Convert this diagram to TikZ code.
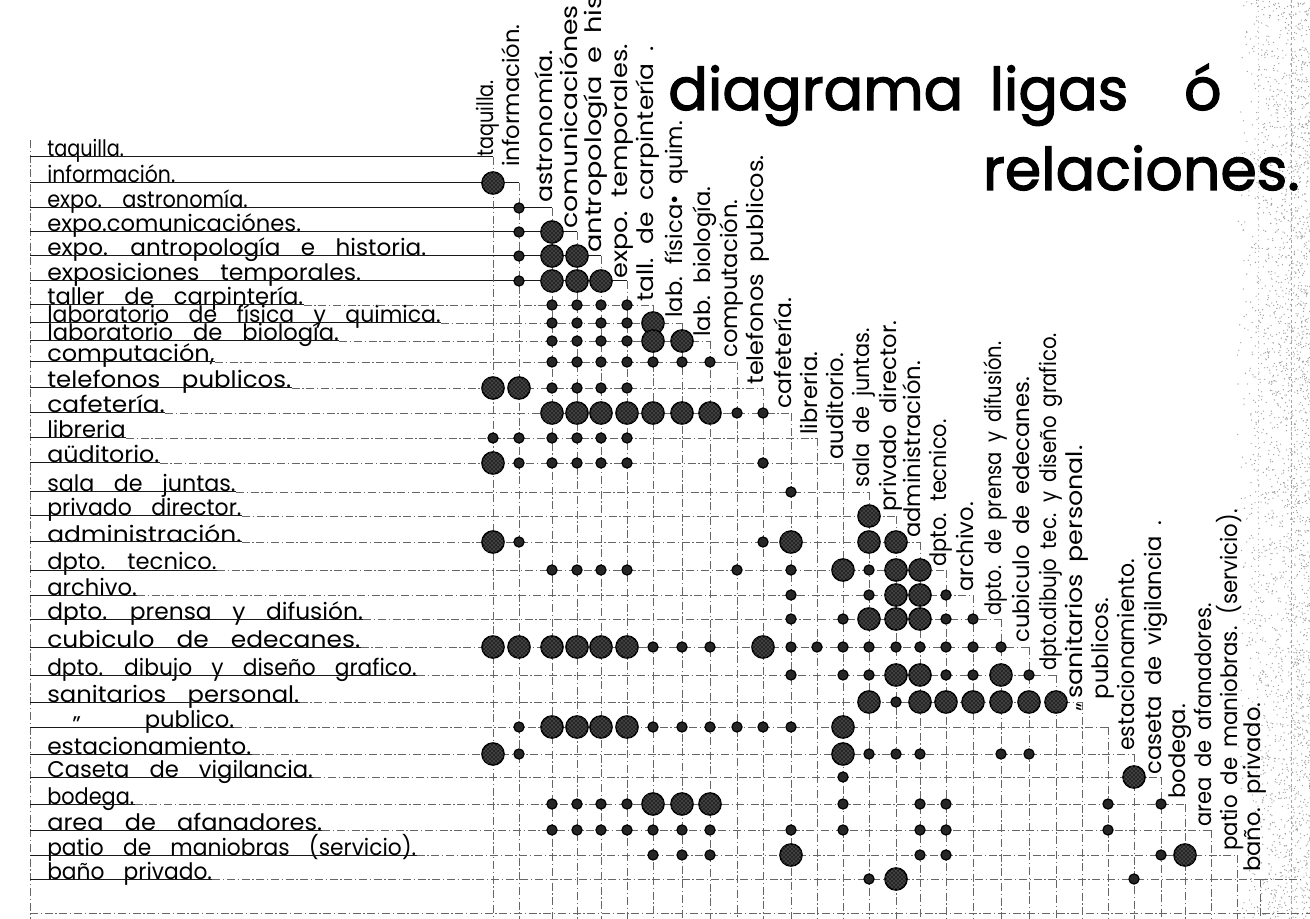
\documentclass[tikz,border=0pt]{standalone}
\usepackage{graphicx}
\usepackage{fontspec}
\setmainfont{Poppins}
\newfontfamily\ttlfont{Poppins}[FakeBold=2]
\usetikzlibrary{calc,patterns}
\newcommand\rowsp{\spaceskip=15pt\relax}
\newcommand\colsp{\spaceskip=8pt\relax}
\tikzset{
  rowsolid/.style={line width=0.75pt, black!90},
  rowdash/.style={line width=0.55pt, black!60, dash pattern=on 6pt off 2pt on 1pt off 2pt},
  coldash/.style={line width=0.55pt, black!60, dash pattern=on 6pt off 2pt on 1pt off 2pt},
  rlab/.style={anchor=base west, inner sep=0pt, font=\fontsize{17}{17}\selectfont},
  clab/.style={rotate=90, anchor=base west, inner sep=0pt, font=\fontsize{17}{17}\selectfont},
  ttl/.style={inner sep=0pt, font=\ttlfont\fontsize{44}{44}\selectfont},
  dotB/.style={circle, draw=black, line width=1.2pt, fill=black!85, minimum size=16.5pt, inner sep=0pt,
    postaction={pattern=crosshatch dots, pattern color=black!40}},
  dotS/.style={circle, draw=black, line width=0.9pt, fill=black!85, minimum size=7.6pt, inner sep=0pt},
}
\begin{document}
\begin{tikzpicture}[x=0.75pt,y=-0.75pt]
\useasboundingbox (0,0) rectangle (1310,919);
\fill[white] (0,0) rectangle (1310,919);
% scanner speckle at the right edge
\pgfmathsetseed{42}
\foreach \k in {1,...,2600}{
  \pgfmathsetmacro{\nx}{1235+75*sqrt(rnd)}
  \pgfmathsetmacro{\ny}{919*rnd}
  \fill[black!38] (\nx,\ny) circle (0.5pt);
}
\coordinate (n1a) at (1291,0);
\coordinate (n1b) at (1291,919);
\coordinate (n2a) at (1258,0);
\coordinate (n2b) at (1258,600);
\draw[black!35, line width=0.5pt, dash pattern=on 2pt off 2pt] (n1a) -- (n1b);
\draw[black!25, line width=0.5pt, dash pattern=on 1pt off 3pt] (n2a) -- (n2b);
\def\colx{493,519,552,577,601,627,653,682,710,737,763,791,817,843,869,896,920,946,973,1001,1029,1056,1082,1108,1134,1161,1185,1211,1237,1260}
\def\rowy{157,183,208,232,256,281,305,323,341,362,388,413,438,463,492,516,542,570,595,619,647,675,702,727,754,777,804,830,855,879}
\coordinate (lx) at (47,0);
\coordinate (l0) at (30,0);
\coordinate (bot) at (0,919);
\foreach \x [count=\i] in \colx {\coordinate (cx\i) at (\x,0);}
\foreach \y [count=\i] in \rowy {\coordinate (ry\i) at (0,\y);}
\foreach \i in {1,...,30}{
  \coordinate (D\i) at (cx\i |- ry\i);
  \coordinate (L\i) at (l0 |- ry\i);
  \coordinate (B\i) at (cx\i |- bot);
}
% frame lines
\coordinate (ltop) at (30,140);
\coordinate (lbot) at (30,919);
\coordinate (bl) at (30,913);
\coordinate (br) at (1310,913);
\draw[coldash] (ltop) -- (lbot);
\draw[coldash] (bl) -- (br);
% row labels (index / horizontal scale / text)
\foreach \i/\s/\t in {1/0.85/taquilla., 2/0.9/información., 3/0.92/expo. astronomía., 4/1/expo.comunicaciónes.,
  5/1.02/expo. antropología e historia., 6/1.04/exposiciones temporales., 7/1/taller de carpintería.,
  8/0.97/laboratorio de física y quimica., 9/1/laboratorio de biología., 10/1.06/{computación,},
  11/1.08/telefonos publicos., 12/1.1/cafetería., 13/1/libreria, 14/1.05/aüditorio., 15/0.98/sala de juntas.,
  16/0.97/privado director., 17/1.1/administración., 18/1/dpto. tecnico., 19/1/archivo.,
  20/1.03/dpto. prensa y difusión., 21/1.1/cubiculo de edecanes., 22/0.96/dpto. dibujo y diseño grafico.,
  23/1.07/sanitarios personal., 25/1.03/estacionamiento., 26/1/Caseta de vigilancia., 27/0.92/bodega.,
  28/1.06/area de afanadores., 29/0.96/patio de maniobras (servicio)., 30/0.96/baño privado.}
  {\node[rlab] (rl\i) at (lx |- ry\i) {\scalebox{\s}[1]{\rowsp\t}};}
\coordinate (lx24) at (72,0);
\node[rlab] (rl24) at (lx24 |- ry24) {\raisebox{-4pt}{"}\hspace{48pt}publico.};
% row lines
\foreach \i in {1,...,6}{\draw[rowsolid] (L\i) -- (D\i);}
\foreach \i in {7,...,30}{
  \draw[rowsolid] (L\i) -- (rl\i.base east);
  \draw[rowdash] (rl\i.base east) -- (D\i);
}
\coordinate (E30) at (1303,879);
\draw[rowdash] (D30) -- (E30);
% column lines
\foreach \i in {1,...,30}{\draw[coldash] (D\i) -- (B\i);}
% column labels (index / x / bottom y / scale along the text / text)
\foreach \i/\x/\yb/\s/\t in {1/493/157/0.85/taquilla., 2/519/167/1/información., 3/552/203/1.12/astronomía.,
  4/577/229/1.18/comunicaciónes, 5/601/253/1.2/antropología e historia., 6/627/279/1.13/expo. temporales.,
  7/653/302/1.1/tall. de carpintería ., 8/682/318/1/lab. física\textbullet\ quim., 9/710/337/1/lab. biología.,
  10/737/358/1/computación., 11/763/385/1.06/telefonos publicos., 12/791/409/1.04/cafetería.,
  13/817/435/1/libreria., 14/843/460/1/auditorio., 15/869/488/0.92/sala de juntas.,
  16/896/512/1/privado director., 17/920/538/1/administración., 18/946/567/0.92/dpto. tecnico.,
  19/973/592/1/archivo., 20/1001/616/0.86/dpto. de prensa y difusión., 21/1029/643/1/cubiculo de edecanes.,
  22/1056/671/0.87/dpto.dibujo tec. y diseño grafico., 23/1082/699/1.12/sanitarios personal.,
  24/1108/712/1/{\raisebox{12pt}{"}\hspace{3pt}publicos.}, 25/1134/751/0.97/estacionamiento.,
  26/1161/775/1/caseta de vigilancia ., 27/1185/799/1/bodega., 28/1211/827/0.93/area de afanadores.,
  29/1237/851/0.94/patio de maniobras. (servicio)., 30/1260/872/1/baño. privado.}
  {\node[clab] (cl\i) at (\x,\yb) {\scalebox{\s}[1]{\colsp\t}};}
% title
\node[ttl, anchor=base west] (t1) at (668,110) {diagrama\hspace{8pt} ligas\hspace{30pt} ó};
\node[ttl, anchor=base east] (t2) at (1300,190) {relaciones.};
% dots
\foreach \r/\c/\s in {2/1/B, 3/2/S, 4/2/S, 4/3/B, 5/2/S, 5/3/B, 5/4/B, 6/2/S, 6/3/B, 6/4/B, 6/5/B,
  7/3/S, 7/4/S, 7/5/S, 7/6/S, 8/3/S, 8/4/S, 8/5/S, 8/6/S, 8/7/B,
  9/3/S, 9/4/S, 9/5/S, 9/6/S, 9/7/B, 9/8/B,
  10/3/S, 10/4/S, 10/5/S, 10/6/S, 10/7/S, 10/8/S, 10/9/S,
  11/1/B, 11/2/B, 11/3/S, 11/4/S, 11/5/S, 11/6/S,
  12/3/B, 12/4/B, 12/5/B, 12/6/B, 12/7/B, 12/8/B, 12/9/B, 12/10/S, 12/11/S,
  13/1/S, 13/2/S, 13/3/S, 13/4/S, 13/5/S, 13/6/S,
  14/1/B, 14/2/S, 14/3/S, 14/4/S, 14/5/S, 14/6/S, 14/11/S,
  15/12/S, 16/15/B,
  17/1/B, 17/2/S, 17/11/S, 17/12/B, 17/15/B, 17/16/B,
  18/3/S, 18/4/S, 18/5/S, 18/6/S, 18/10/S, 18/12/S, 18/14/B, 18/15/S, 18/16/B, 18/17/B,
  19/12/S, 19/15/S, 19/16/B, 19/17/B, 19/18/S,
  20/12/S, 20/14/S, 20/15/B, 20/16/B, 20/17/B, 20/18/S, 20/19/S,
  21/1/B, 21/2/B, 21/3/B, 21/4/B, 21/5/B, 21/6/B, 21/7/S, 21/8/S, 21/9/S, 21/11/B,
  21/12/S, 21/13/S, 21/14/S, 21/15/S, 21/16/S, 21/17/S, 21/18/S, 21/19/S, 21/20/S,
  22/12/S, 22/14/S, 22/15/S, 22/16/B, 22/17/B, 22/18/S, 22/19/S, 22/20/B, 22/21/S,
  23/15/B, 23/16/S, 23/17/B, 23/18/B, 23/19/B, 23/20/B, 23/21/B, 23/22/B,
  24/2/S, 24/3/B, 24/4/B, 24/5/B, 24/6/B, 24/7/S, 24/8/S, 24/9/S, 24/10/S, 24/11/S, 24/12/S, 24/14/B,
  25/1/B, 25/2/S, 25/14/B, 25/15/S, 25/16/S, 25/17/S, 25/20/S, 25/21/S,
  26/14/S, 26/25/B,
  27/3/S, 27/4/S, 27/5/S, 27/6/S, 27/7/B, 27/8/B, 27/9/B, 27/14/S, 27/17/S, 27/18/S, 27/24/S, 27/26/S,
  28/3/S, 28/4/S, 28/5/S, 28/6/S, 28/7/S, 28/8/S, 28/9/S, 28/12/S, 28/14/S, 28/17/S, 28/18/S, 28/24/S,
  29/7/S, 29/8/S, 29/9/S, 29/12/B, 29/17/S, 29/18/S, 29/26/S, 29/27/B,
  30/15/S, 30/16/B, 30/25/S}
  {\node[dot\s] (d\r-\c) at (cx\c |- ry\r) {};}
\end{tikzpicture}
\end{document}
